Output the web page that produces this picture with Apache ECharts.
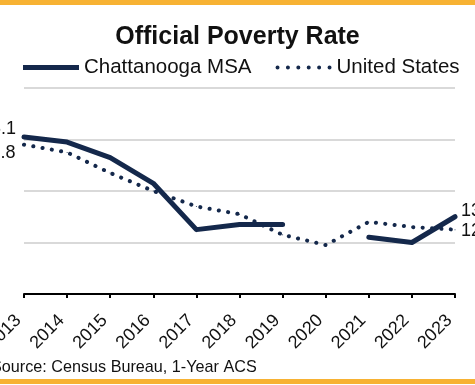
<!DOCTYPE html>
<html>
<head>
<meta charset="utf-8">
<script src="https://cdn.jsdelivr.net/npm/echarts@6/dist/echarts.min.js"></script>
<style>
html,body{margin:0;padding:0;background:#fff;}
#chart{width:475px;height:385px;}
</style>
</head>
<body>
<div id="chart"></div>
<script>
var years = ['2013','2014','2015','2016','2017','2018','2019','2020','2021','2022','2023'];
var chattanooga = [16.1, 15.9, 15.3, 14.3, 12.5, 12.7, 12.7, null, 12.2, 12.0, 13.0];
var unitedStates = [15.8, 15.5, 14.7, 14.0, 13.4, 13.1, 12.3, 11.9, 12.8, 12.6, 12.5];
var seriesNames = ['Chattanooga MSA', 'United States'];
var titleText = 'Official Poverty Rate';
var sourceText = 'Source: Census Bureau, 1-Year ACS';

var NAVY = '#14284B';
var GOLD = '#F7B233';
var FONT = 'Liberation Sans, Arial, sans-serif';

function withEndLabels(values, startCfg, endCfg) {
  return values.map(function (v, i) {
    if (i === 0 && startCfg) {
      return { value: v, label: Object.assign({ show: true, formatter: v.toFixed(1) }, startCfg) };
    }
    if (i === values.length - 1 && endCfg) {
      return { value: v, label: Object.assign({ show: true, formatter: v.toFixed(1) }, endCfg) };
    }
    return v;
  });
}

var solidIcon = 'path://M0,0H56V5H0Z';
var dotIcon = (function () {
  var p = 'path://';
  var n = 6, r = 2, w = 56;
  for (var i = 0; i < n; i++) {
    var cx = r + i * (w - 2 * r) / (n - 1);
    p += 'M' + (cx - r) + ',2a2,2 0 1,0 4,0a2,2 0 1,0 -4,0Z';
  }
  return p;
})();

var labelBase = { fontSize: 18, color: '#111', fontFamily: FONT, position: 'inside', verticalAlign: 'middle' };

var chart = echarts.init(document.getElementById('chart'), null, { renderer: 'canvas' });
chart.setOption({
  animation: false,
  backgroundColor: '#fff',
  title: {
    text: titleText,
    left: 'center',
    top: 20,
    textStyle: { fontSize: 25, fontWeight: 'bold', color: '#111', fontFamily: FONT }
  },
  legend: {
    left: 18,
    top: 52,
    itemWidth: 56,
    itemHeight: 5,
    itemGap: 24,
    itemStyle: { borderWidth: 0 },
    textStyle: { fontSize: 20.5, color: '#111', fontFamily: FONT },
    data: [
      { name: seriesNames[0], icon: solidIcon },
      { name: seriesNames[1], icon: dotIcon }
    ]
  },
  grid: { left: 24, right: 20, top: 88, bottom: 91, containLabel: false, outerBoundsMode: 'none' },
  xAxis: {
    type: 'category',
    data: years,
    boundaryGap: false,
    axisLine: { lineStyle: { color: '#000', width: 2 } },
    axisTick: { length: 4, lineStyle: { color: '#000', width: 2 } },
    axisLabel: { rotate: 45, fontSize: 18, color: '#111', fontFamily: FONT, margin: 18, padding: [0, 8, 0, 0] }
  },
  yAxis: {
    type: 'value',
    min: 10,
    max: 18,
    interval: 2,
    axisLabel: { show: false },
    axisLine: { show: false },
    axisTick: { show: false },
    splitLine: { lineStyle: { color: '#D9D9D9', width: 2 } }
  },
  series: [
    {
      name: seriesNames[0],
      type: 'line',
      data: withEndLabels(chattanooga,
        Object.assign({}, labelBase, { align: 'right', offset: [-8, -8] }),
        Object.assign({}, labelBase, { align: 'left', offset: [6, -6] })),
      symbol: 'circle',
      symbolSize: 1,
      showAllSymbol: true,
      connectNulls: false,
      clip: false,
      itemStyle: { color: NAVY },
      lineStyle: { color: NAVY, width: 5, cap: 'round', join: 'round' },
      z: 3
    },
    {
      name: seriesNames[1],
      type: 'line',
      data: withEndLabels(unitedStates,
        Object.assign({}, labelBase, { align: 'right', offset: [-8.5, 8] }),
        Object.assign({}, labelBase, { align: 'left', offset: [6, 1] })),
      symbol: 'circle',
      symbolSize: 1,
      showAllSymbol: true,
      clip: false,
      itemStyle: { color: NAVY },
      lineStyle: { color: NAVY, width: 4, type: [0.1, 9.3], cap: 'round' },
      z: 2
    }
  ],
  graphic: [
    { type: 'rect', shape: { x: 0, y: 0, width: 475, height: 5 }, style: { fill: GOLD }, z: 10 },
    { type: 'rect', shape: { x: 0, y: 379, width: 475, height: 5 }, style: { fill: GOLD }, z: 10 },
    { type: 'text', left: -9, top: 360, style: { text: sourceText, fontSize: 16.2, fill: '#111', fontFamily: FONT }, z: 10 }
  ]
});
</script>
</body>
</html>
